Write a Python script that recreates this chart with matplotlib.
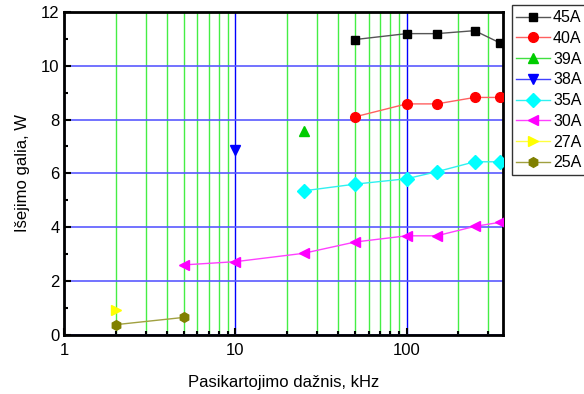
import matplotlib
matplotlib.use("Agg")
import matplotlib.pyplot as plt
from matplotlib.ticker import LogLocator, NullFormatter, FixedLocator

plt.rcParams['font.family'] = ['Liberation Sans', 'DejaVu Sans']

# Duomenys (kHz, W)
f_45 = [50, 100, 150, 250, 350]
p_45 = [10.97, 11.19, 11.19, 11.3, 10.85]
f_40 = [50, 100, 150, 250, 350]
p_40 = [8.1, 8.58, 8.58, 8.82, 8.82]
f_39 = [25]
p_39 = [7.58]
f_38 = [10]
p_38 = [6.88]
f_35 = [25, 50, 100, 150, 250, 350]
p_35 = [5.35, 5.6, 5.8, 6.06, 6.43, 6.43]
f_30 = [5, 10, 25, 50, 100, 150, 250, 350]
p_30 = [2.6, 2.72, 3.03, 3.45, 3.68, 3.68, 4.03, 4.18]
f_27 = [2]
p_27 = [0.92]
f_25 = [2, 5]
p_25 = [0.38, 0.65]

series = [
    ('45A', f_45, p_45, 's', '#000000', '#555555'),
    ('40A', f_40, p_40, 'o', '#ff0000', '#ff6060'),
    ('39A', f_39, p_39, '^', '#00cc00', '#40e040'),
    ('38A', f_38, p_38, 'v', '#0000ff', '#4040ff'),
    ('35A', f_35, p_35, 'D', '#00ffff', '#30f0f0'),
    ('30A', f_30, p_30, '<', '#ff00ff', '#ff40ff'),
    ('27A', f_27, p_27, '>', '#ffff00', '#ffff40'),
    ('25A', f_25, p_25, 'h', '#808000', '#a0a040'),
]

fig = plt.figure(figsize=(5.84, 3.94), dpi=100)
ax = fig.add_axes([0.11, 0.15, 0.751, 0.82])

for name, f, p, m, c, lc in series:
    ms = 6 if m in ('s',) else 7
    ax.plot(f, p, color=lc, lw=1, marker=m, ms=ms, markerfacecolor=c,
            markeredgecolor=c, label=name, zorder=3)

ax.set_xscale('log')
ax.set_xlim(1, 365)
ax.set_ylim(0, 12)

ax.xaxis.set_major_locator(FixedLocator([1, 10, 100]))
ax.set_xticklabels(['1', '10', '100'])
ax.xaxis.set_minor_locator(LogLocator(base=10, subs=range(2, 10), numticks=20))
ax.xaxis.set_minor_formatter(NullFormatter())
ax.set_yticks([0, 2, 4, 6, 8, 10, 12])
ax.set_yticks([1, 3, 5, 7, 9, 11], minor=True)

ax.grid(True, which='major', axis='y', color='#5a5aff', lw=1.2, zorder=1)
ax.grid(True, which='major', axis='x', color='#0000ff', lw=1, zorder=1)
ax.grid(True, which='minor', axis='x', color='#44ee44', lw=1, zorder=1)

ax.tick_params(which='both', direction='in', labelsize=12, width=1.5, top=False, right=False)
ax.tick_params(which='major', length=5)
ax.tick_params(which='minor', length=3)
ax.tick_params(axis='x', pad=6)
for s in ax.spines.values():
    s.set_linewidth(2)

ax.set_xlabel('Pasikartojimo dažnis, kHz', fontsize=12, labelpad=12)
ax.set_ylabel('Išejimo galia, W', fontsize=12, labelpad=8)

leg = ax.legend(loc='upper left', bbox_to_anchor=(1.02, 1.02), fontsize=11.5,
                frameon=True, fancybox=False, edgecolor='black', handlelength=2.1,
                labelspacing=0.36, borderpad=0.3, handletextpad=0.2, borderaxespad=0)
leg.get_frame().set_linewidth(1)

fig.savefig('out.png', dpi=100)
